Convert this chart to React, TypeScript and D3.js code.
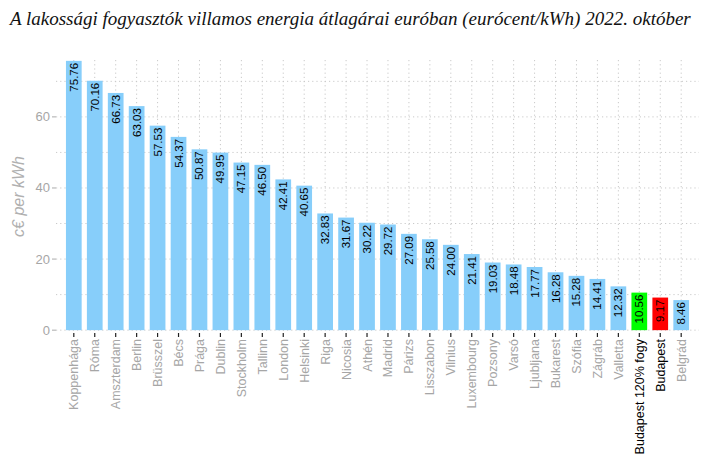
import * as d3 from "d3"

const cities = [
  "Koppenhága", "Róma", "Amszterdam", "Berlin", "Brüsszel", "Bécs", "Prága", "Dublin",
  "Stockholm", "Tallinn", "London", "Helsinki", "Riga", "Nicosia", "Athén", "Madrid",
  "Párizs", "Lisszabon", "Vilnius", "Luxembourg", "Pozsony", "Varsó", "Ljubljana",
  "Bukarest", "Szófia", "Zágráb", "Valletta", "Budapest 120% fogy", "Budapest", "Belgrád",
]
const prices = [
  75.76, 70.16, 66.73, 63.03, 57.53, 54.37, 50.87, 49.95, 47.15, 46.5, 42.41, 40.65,
  32.83, 31.67, 30.22, 29.72, 27.09, 25.58, 24.0, 21.41, 19.03, 18.48, 17.77, 16.28,
  15.28, 14.41, 12.32, 10.56, 9.17, 8.46,
]
const majorTicks = [0, 20, 40, 60]
const minorTicks = [10, 30, 50, 70]
const highlight: Record<string, string> = {
  "Budapest 120% fogy": "#00ff00",
  Budapest: "#ff0000",
}

const W = 720
const H = 469
const LEFT = 56
const RIGHT = 699
const TOP = 60
const BOTTOM = 333
const SANS = "'Liberation Sans', Arial, sans-serif"
const SERIF = "'Liberation Serif', 'DejaVu Serif', 'Times New Roman', serif"
const GRID = "#c9c9c9"

export default function App() {
  const x = d3.scaleBand<string>().domain(cities).range([LEFT, RIGHT]).paddingInner(0.25).paddingOuter(0.475)
  const y = d3.scaleLinear().domain([-0.8, 76]).range([BOTTOM, TOP])
  const bw = x.bandwidth()
  const cx = (c: string) => (x(c) ?? 0) + bw / 2

  return (
    <svg width={W} height={H} style={{ position: "absolute", left: 0, top: 0, background: "#fff" }}>
      <text x={10} y={25} fontFamily={SERIF} fontStyle="italic" fontSize={19} fill="#111">
        A lakossági fogyasztók villamos energia átlagárai euróban (eurócent/kWh) 2022. október
      </text>

      {/* grid */}
      <g stroke={GRID} strokeWidth={1} strokeDasharray="1.2,3">
        {[...majorTicks, ...minorTicks].map((t) => (
          <line key={"h" + t} x1={LEFT} x2={RIGHT} y1={y(t)} y2={y(t)} />
        ))}
        {cities.map((c) => (
          <line key={"v" + c} x1={cx(c)} x2={cx(c)} y1={TOP} y2={BOTTOM} />
        ))}
      </g>

      {/* bars */}
      {cities.map((c, i) => (
        <rect
          key={c}
          x={x(c)}
          y={y(prices[i])}
          width={bw}
          height={y(0) - y(prices[i])}
          fill={highlight[c] ?? "#87cefa"}
        />
      ))}

      {/* value labels */}
      {cities.map((c, i) => (
        <text
          key={"l" + c}
          transform={`translate(${cx(c) + 4},${y(prices[i]) + 2}) rotate(-90)`}
          textAnchor="end"
          fontFamily={SANS}
          fontSize={11.5}
          fill="#000"
        >
          {prices[i].toFixed(2)}
        </text>
      ))}

      {/* y axis */}
      {majorTicks.map((t) => (
        <g key={"yt" + t}>
          <line x1={LEFT - 4} x2={LEFT} y1={y(t)} y2={y(t)} stroke="#aaa" />
          <text x={LEFT - 6} y={y(t) + 4.5} textAnchor="end" fontFamily={SANS} fontSize={13} fill="#a6a6a6">
            {t}
          </text>
        </g>
      ))}
      <text
        transform={`translate(24,${(TOP + BOTTOM) / 2}) rotate(-90)`}
        textAnchor="middle"
        fontFamily={SANS}
        fontStyle="italic"
        fontSize={16}
        fill="#b0b0b0"
      >
        c€ per kWh
      </text>

      {/* x axis */}
      {cities.map((c) => (
        <g key={"xt" + c}>
          <line x1={cx(c)} x2={cx(c)} y1={BOTTOM} y2={BOTTOM + 4} stroke="#222" strokeWidth={1.2} />
          <text
            transform={`translate(${cx(c) + 4.5},${BOTTOM + 6}) rotate(-90)`}
            textAnchor="end"
            fontFamily={SANS}
            fontSize={12.5}
            fill={highlight[c] ? "#000" : "#a6a6a6"}
          >
            {c}
          </text>
        </g>
      ))}
    </svg>
  )
}
